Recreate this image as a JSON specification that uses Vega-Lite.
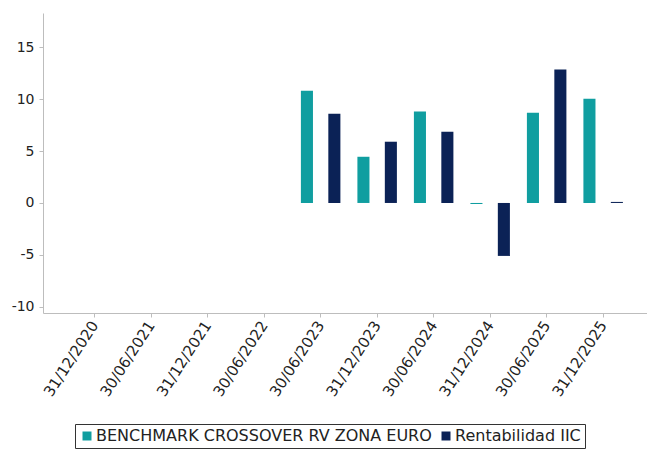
{
  "$schema": "https://vega.github.io/schema/vega-lite/v6.json",
  "width": 604,
  "height": 300,
  "autosize": {"type": "none"},
  "padding": {"left": 43, "top": 13, "right": 0, "bottom": 137},
  "background": "white",
  "data": {
    "values": [
      {"fecha": "30/06/2023", "serie": "BENCHMARK CROSSOVER RV ZONA EURO", "valor": 10.8},
      {"fecha": "30/06/2023", "serie": "Rentabilidad IIC", "valor": 8.6},
      {"fecha": "31/12/2023", "serie": "BENCHMARK CROSSOVER RV ZONA EURO", "valor": 4.45},
      {"fecha": "31/12/2023", "serie": "Rentabilidad IIC", "valor": 5.9},
      {"fecha": "30/06/2024", "serie": "BENCHMARK CROSSOVER RV ZONA EURO", "valor": 8.8},
      {"fecha": "30/06/2024", "serie": "Rentabilidad IIC", "valor": 6.85},
      {"fecha": "31/12/2024", "serie": "BENCHMARK CROSSOVER RV ZONA EURO", "valor": -0.1},
      {"fecha": "31/12/2024", "serie": "Rentabilidad IIC", "valor": -5.1},
      {"fecha": "30/06/2025", "serie": "BENCHMARK CROSSOVER RV ZONA EURO", "valor": 8.7},
      {"fecha": "30/06/2025", "serie": "Rentabilidad IIC", "valor": 12.85},
      {"fecha": "31/12/2025", "serie": "BENCHMARK CROSSOVER RV ZONA EURO", "valor": 10.05},
      {"fecha": "31/12/2025", "serie": "Rentabilidad IIC", "valor": 0.1}
    ]
  },
  "mark": {"type": "bar"},
  "encoding": {
    "x": {
      "field": "fecha",
      "type": "nominal",
      "sort": null,
      "scale": {
        "domain": ["31/12/2020", "30/06/2021", "31/12/2021", "30/06/2022", "30/06/2023", "31/12/2023", "30/06/2024", "31/12/2024", "30/06/2025", "31/12/2025"],
        "paddingInner": 0,
        "paddingOuter": 0.345,
        "align": 0.6
      },
      "axis": {
        "title": null,
        "labelAngle": -57,
        "labelFont": "DejaVu Sans",
        "labelFontSize": 15,
        "labelColor": "#222222",
        "domainColor": "#bdbdbd",
        "tickColor": "#bdbdbd",
        "tickSize": 4,
        "labelPadding": 5,
        "grid": false
      }
    },
    "xOffset": {
      "field": "serie",
      "type": "nominal",
      "scale": {"paddingInner": 0.56, "paddingOuter": 0.31}
    },
    "y": {
      "field": "valor",
      "type": "quantitative",
      "scale": {"domain": [-10.6, 18.3], "nice": false, "zero": false},
      "axis": {
        "title": null,
        "values": [-10, -5, 0, 5, 10, 15],
        "labelExpr": "replace(datum.label, '\u2212', '-')",
        "labelFont": "DejaVu Sans",
        "labelFontSize": 14,
        "labelColor": "#222222",
        "domainColor": "#bdbdbd",
        "tickColor": "#bdbdbd",
        "tickSize": 4,
        "labelPadding": 5,
        "grid": false
      }
    },
    "color": {
      "field": "serie",
      "type": "nominal",
      "scale": {
        "domain": ["BENCHMARK CROSSOVER RV ZONA EURO", "Rentabilidad IIC"],
        "range": ["#109ea0", "#0b2256"]
      },
      "legend": {
        "title": null,
        "orient": "none",
        "legendX": 32,
        "legendY": 411,
        "direction": "horizontal",
        "symbolType": "square",
        "symbolSize": 81,
        "symbolStrokeWidth": 0,
        "labelFont": "DejaVu Sans",
        "labelFontSize": 16,
        "labelColor": "#222222",
        "strokeColor": "#333333",
        "padding": 4,
        "columnPadding": 6,
        "labelOffset": 1,
        "labelLimit": 0
      }
    }
  },
  "config": {"view": {"stroke": null}}
}
